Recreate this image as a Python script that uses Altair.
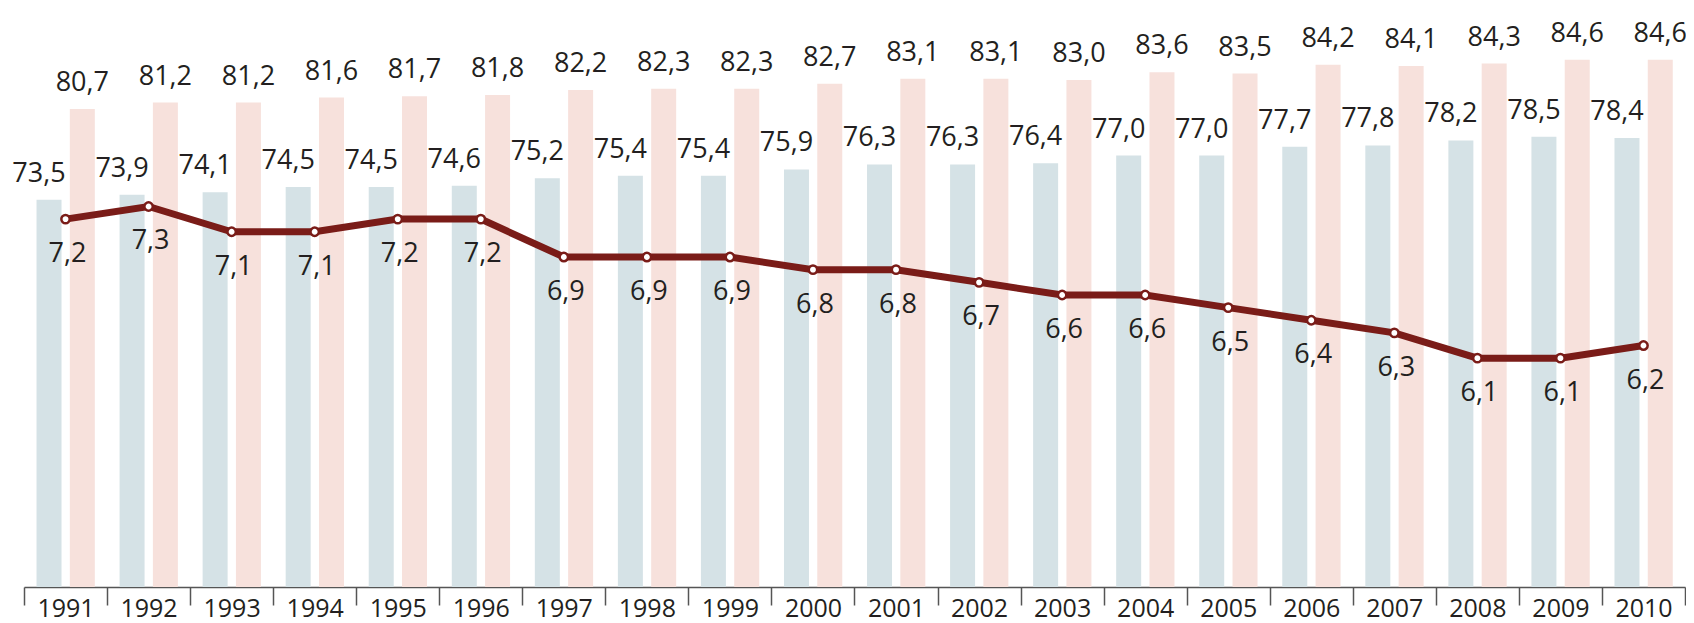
import altair as alt
import pandas as pd

years = [str(y) for y in range(1991, 2011)]
male = [73.5, 73.9, 74.1, 74.5, 74.5, 74.6, 75.2, 75.4, 75.4, 75.9,
        76.3, 76.3, 76.4, 77.0, 77.0, 77.7, 77.8, 78.2, 78.5, 78.4]
female = [80.7, 81.2, 81.2, 81.6, 81.7, 81.8, 82.2, 82.3, 82.3, 82.7,
          83.1, 83.1, 83.0, 83.6, 83.5, 84.2, 84.1, 84.3, 84.6, 84.6]
diff = [7.2, 7.3, 7.1, 7.1, 7.2, 7.2, 6.9, 6.9, 6.9, 6.8,
        6.8, 6.7, 6.6, 6.6, 6.5, 6.4, 6.3, 6.1, 6.1, 6.2]

def fmt(v):
    return f"{v:.1f}".replace(".", ",")

df = pd.DataFrame({
    "year": years,
    "male": male,
    "female": female,
    "diff": diff,
    "male_lbl": [fmt(v) for v in male],
    "female_lbl": [fmt(v) for v in female],
    "diff_lbl": [fmt(v) for v in diff],
})

BAR_MIN, BAR_MAX = 42.8, 88.7
LINE_MIN, LINE_MAX = 4.29, 8.87
FONT = "Open Sans"
TXT = "#231f20"
MALE_C = "#d5e2e6"
FEMALE_C = "#f7e1dc"
LINE_C = "#7a1c18"

x_enc = alt.X(
    "year:N",
    scale=alt.Scale(paddingInner=0, paddingOuter=0),
    axis=alt.Axis(
        title=None, labelAngle=0, tickBand="extent", tickSize=18,
        tickWidth=1.5, tickColor="#555", domainColor="#555", domainWidth=1.5,
        labelFont=FONT, labelFontSize=25, labelColor=TXT, labelPadding=-9,
        grid=False,
    ),
)

ybar = alt.Y("male:Q", scale=alt.Scale(domain=[BAR_MIN, BAR_MAX], zero=False, nice=False), axis=None)
ybar_f = alt.Y("female:Q", scale=alt.Scale(domain=[BAR_MIN, BAR_MAX], zero=False, nice=False), axis=None)

base = alt.Chart(df)

bar_m = base.mark_bar(width=25, xOffset=-16.5, color=MALE_C).encode(
    x=x_enc, y=ybar, y2=alt.datum(BAR_MIN))
bar_f = base.mark_bar(width=25, xOffset=16.8, color=FEMALE_C).encode(
    x=x_enc, y=ybar_f, y2=alt.datum(BAR_MIN))
txt_m = base.mark_text(font=FONT, fontSize=27, color=TXT, dx=-26.5, dy=-18,
                       baseline="alphabetic").encode(
    x=x_enc, y=ybar, text="male_lbl:N")
txt_f = base.mark_text(font=FONT, fontSize=27, color=TXT, dx=16.8, dy=-18,
                       baseline="alphabetic").encode(
    x=x_enc, y=ybar_f, text="female_lbl:N")

bars = alt.layer(bar_m, bar_f, txt_m, txt_f)

yline = alt.Y("diff:Q", scale=alt.Scale(domain=[LINE_MIN, LINE_MAX], zero=False, nice=False), axis=None)
line = base.mark_line(color=LINE_C, strokeWidth=7).encode(x=x_enc, y=yline)
pts = base.mark_point(shape="circle", filled=True, fill="white", stroke=LINE_C,
                      strokeWidth=2.5, size=70, opacity=1).encode(x=x_enc, y=yline)
txt_d = base.mark_text(font=FONT, fontSize=27, color=TXT, dx=2, dy=43,
                       baseline="alphabetic").encode(x=x_enc, y=yline, text="diff_lbl:N")
lines = alt.layer(line, pts, txt_d)

chart = alt.layer(bars, lines).resolve_scale(y="independent").properties(
    width=1661, height=579,
    autosize=alt.AutoSizeParams(type="none"),
    padding={"left": 16, "top": 0, "right": 1, "bottom": 40},
).configure_view(stroke=None)

chart.save("out.html", embed_options={"renderer": "svg", "actions": False})
